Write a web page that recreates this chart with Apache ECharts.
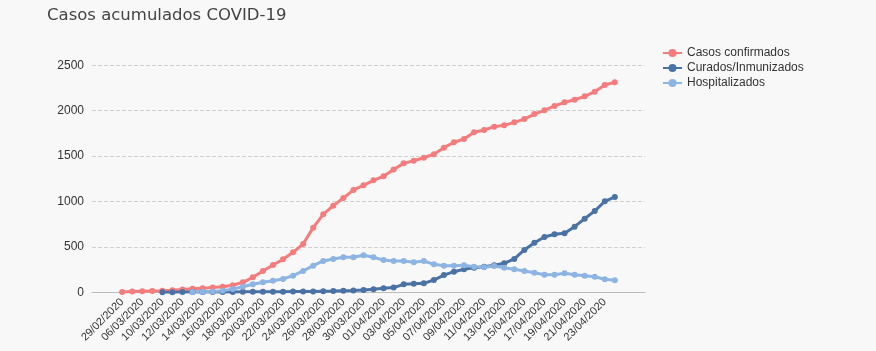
<!DOCTYPE html>
<html>
<head>
<meta charset="utf-8">
<title>Casos acumulados COVID-19</title>
<script src="https://cdn.jsdelivr.net/npm/echarts@6/dist/echarts.min.js"></script>
<style>
  html, body { margin: 0; padding: 0; background: #f8f8f8; }
  #chart { width: 876px; height: 351px; }
</style>
</head>
<body>
<div id="chart"></div>
<script>
// fechas del eje x
var fechas = [
  '29/02/2020', '04/03/2020', '06/03/2020', '09/03/2020', '10/03/2020', '11/03/2020',
  '12/03/2020', '13/03/2020', '14/03/2020', '15/03/2020', '16/03/2020', '17/03/2020',
  '18/03/2020', '19/03/2020', '20/03/2020', '21/03/2020', '22/03/2020', '23/03/2020',
  '24/03/2020', '25/03/2020', '26/03/2020', '27/03/2020', '28/03/2020', '29/03/2020',
  '30/03/2020', '31/03/2020', '01/04/2020', '02/04/2020', '03/04/2020', '04/04/2020',
  '05/04/2020', '06/04/2020', '07/04/2020', '08/04/2020', '09/04/2020', '10/04/2020',
  '11/04/2020', '12/04/2020', '13/04/2020', '14/04/2020', '15/04/2020', '16/04/2020',
  '17/04/2020', '18/04/2020', '19/04/2020', '20/04/2020', '21/04/2020', '22/04/2020',
  '23/04/2020', '24/04/2020'
];

var confirmados = [
  2, 8, 12, 15, 18, 22, 30, 38, 45, 52, 62, 78, 110, 165, 235, 300, 363, 440,
  532, 712, 859, 954, 1038, 1127, 1178, 1233, 1278, 1352, 1420, 1449, 1482, 1520,
  1593, 1652, 1688, 1762, 1787, 1824, 1839, 1872, 1908, 1963, 2004, 2052, 2092,
  2121, 2158, 2209, 2283, 2313
];

var curados = [
  null, null, null, null, 1, 1, 2, 2, 3, 3, 4, 4, 5, 5, 6, 7, 7, 8, 9, 10, 12,
  14, 17, 20, 25, 33, 45, 52, 88, 95, 99, 135, 190, 227, 253, 271, 282, 297, 319,
  367, 466, 546, 609, 639, 650, 723, 811, 895, 1002, 1050
];

var hospitalizados = [
  null, null, null, null, null, null, null, 3, 6, 10, 18, 35, 62, 88, 110, 128,
  146, 183, 235, 293, 345, 367, 385, 385, 407, 385, 356, 345, 345, 330, 345, 308,
  293, 293, 297, 282, 275, 290, 271, 253, 235, 216, 194, 194, 209, 194, 183, 172,
  143, 132
];

var ticksY = [0, 500, 1000, 1500, 2000, 2500];

// el eje deja unas categorias vacias a cada lado
var relleno = 3;
function conRelleno(arr, vacio) {
  var antes = [], despues = [];
  for (var i = 0; i < relleno; i++) {
    antes.push(vacio === undefined ? ' '.repeat(i + 1) : vacio);
    despues.push(vacio === undefined ? ' '.repeat(relleno + i + 1) : vacio);
  }
  return antes.concat(arr, despues);
}

var myChart = echarts.init(document.getElementById('chart'));
myChart.setOption({
  backgroundColor: '#f8f8f8',
  animation: false,
  title: {
    text: 'Casos acumulados COVID-19',
    left: 42,
    top: 2,
    textStyle: { fontFamily: 'DejaVu Sans', fontSize: 16.5, fontWeight: 'normal', color: '#444' }
  },
  legend: {
    orient: 'vertical',
    left: 657,
    top: 42,
    itemWidth: 19,
    itemHeight: 10,
    itemGap: 3,
    textStyle: { fontFamily: 'Liberation Sans', fontSize: 12, color: '#333' },
    data: ['Casos confirmados', 'Curados/Inmunizados', 'Hospitalizados']
  },
  grid: { left: 92, right: 231, top: 65.3, bottom: 58.7, outerBoundsMode: 'none' },
  xAxis: {
    type: 'category',
    boundaryGap: false,
    data: conRelleno(fechas),
    axisLine: { lineStyle: { color: '#bbb' } },
    axisTick: { show: false },
    axisLabel: {
      rotate: 45,
      fontFamily: 'Liberation Sans',
      fontSize: 11,
      color: '#333',
      interval: function (idx, val) {
        return val.trim() !== '' && (idx - relleno) % 2 === 0;
      }
    },
    splitLine: { show: false }
  },
  yAxis: {
    type: 'value',
    min: ticksY[0],
    max: ticksY[ticksY.length - 1],
    interval: 500,
    axisLine: { show: false },
    axisTick: { show: false },
    axisLabel: {
      fontFamily: 'Liberation Sans',
      fontSize: 12,
      color: '#333',
      formatter: function (v) { return String(v); }
    },
    splitLine: { lineStyle: { color: '#d0d0d0', type: 'dashed' } }
  },
  series: [
    {
      name: 'Casos confirmados',
      type: 'line',
      data: conRelleno(confirmados, null),
      symbol: 'circle',
      symbolSize: 6,
      color: '#f47c7c',
      lineStyle: { width: 3 }
    },
    {
      name: 'Curados/Inmunizados',
      type: 'line',
      data: conRelleno(curados, null),
      symbol: 'circle',
      symbolSize: 6,
      color: '#4a72a5',
      lineStyle: { width: 3 }
    },
    {
      name: 'Hospitalizados',
      type: 'line',
      data: conRelleno(hospitalizados, null),
      symbol: 'circle',
      symbolSize: 6,
      color: '#8db4e2',
      lineStyle: { width: 3 }
    }
  ]
});
</script>
</body>
</html>
